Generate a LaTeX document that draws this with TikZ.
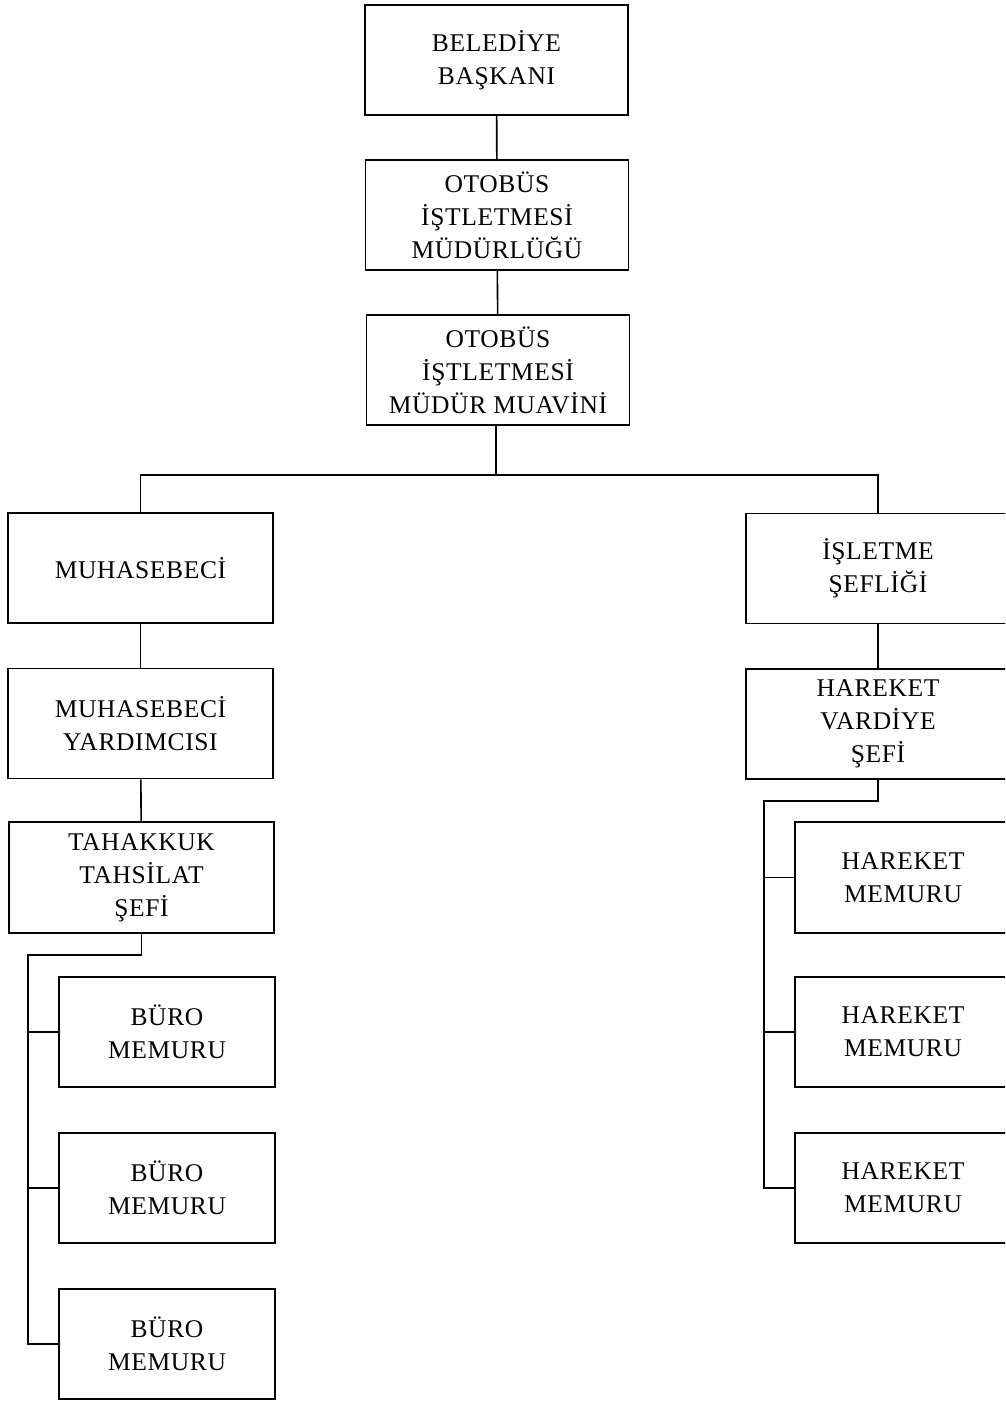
\documentclass[tikz,border=0pt]{standalone}
\usepackage{fontspec}
\setmainfont[LetterSpace=2.5]{Liberation Serif}
\begin{document}
\begin{tikzpicture}[x=1pt,y=-1pt,
  box/.style={draw, line width=1.6pt, minimum width=263pt, minimum height=110pt,
    inner sep=0pt, align=center, font=\fontsize{25.5}{33}\selectfont},
  conn/.style={line width=1.6pt}]
\useasboundingbox (0,0) rectangle (1005,1401);
\clip (0,0) rectangle (1005,1401);
% top column
\node[box] (bas) at (496.5,60) {BELEDİYE\\BAŞKANI};
\node[box] (mud) at (497,215) {OTOBÜS\\İŞTLETMESİ\\MÜDÜRLÜĞÜ};
\node[box] (muv) at (498,370) {OTOBÜS\\İŞTLETMESİ\\MÜDÜR MUAVİNİ};
% left column
\node[box, minimum width=265pt] (muh) at (140.5,568) {MUHASEBECİ};
\node[box, minimum width=265pt] (myr) at (140.5,723.5) {MUHASEBECİ\\YARDIMCISI};
\node[box, minimum width=265pt, minimum height=111pt] (tah) at (141.5,877.5) {TAHAKKUK\\TAHSİLAT\\ŞEFİ};
\node[box, minimum width=216pt] (b1) at (167,1032) {BÜRO\\MEMURU};
\node[box, minimum width=216pt] (b2) at (167,1188) {BÜRO\\MEMURU};
\node[box, minimum width=216pt] (b3) at (167,1344) {BÜRO\\MEMURU};
% right column
\node[box, minimum width=264pt] (isl) at (878,568.5) {İŞLETME\\ŞEFLİĞİ};
\node[box, minimum width=264pt] (hvs) at (878,724) {HAREKET\\VARDİYE\\ŞEFİ};
\node[box, minimum width=216pt, minimum height=111pt] (h1) at (903,877.5) {HAREKET\\MEMURU};
\node[box, minimum width=216pt] (h2) at (903,1032) {HAREKET\\MEMURU};
\node[box, minimum width=216pt] (h3) at (903,1188) {HAREKET\\MEMURU};
% connectors
\coordinate (j1) at (496,475);
\coordinate (j2) at (28,955);
\coordinate (j3) at (764,801);
\draw[conn] (bas) -- (mud);
\draw[conn] (mud) -- (muv);
\draw[conn] (muv.south -| j1) -- (j1);
\draw[conn] (muh.north) |- (j1) -| (isl.north);
\draw[conn] (muh) -- (myr);
\draw[conn] (myr) -- (tah);
\draw[conn] (tah.south) |- (j2) |- (b3.west);
\draw[conn] (j2 |- b1.west) -- (b1.west);
\draw[conn] (j2 |- b2.west) -- (b2.west);
\draw[conn] (isl) -- (hvs);
\draw[conn] (hvs.south) |- (j3) |- (h3.west);
\draw[conn] (j3 |- h1.west) -- (h1.west);
\draw[conn] (j3 |- h2.west) -- (h2.west);
\end{tikzpicture}
\end{document}
